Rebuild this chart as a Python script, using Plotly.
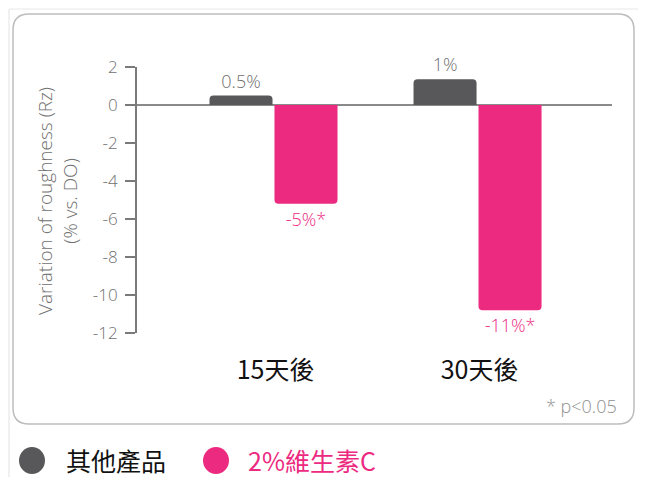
import plotly.graph_objects as go

# ---- data ----
categories = ["15天後", "30天後"]
other_values = [0.5, 1.35]
vitc_values = [-5.2, -10.8]
other_labels = ["0.5%", "1%"]
vitc_labels = ["-5%*", "-11%*"]
series_names = ["其他產品", "2%維生素C"]
y_ticks = [2, 0, -2, -4, -6, -8, -10, -12]

GRAY = "#58585A"
PINK = "#EC2A7F"
TXT_GRAY = "#707070"
LIGHT = "Open Sans"
CJK = "Noto Sans CJK TC"

OFF = 8                      # page body margin
W, H = 646 - OFF, 477 - OFF
PL, PR, PT, PB = 137, 612, 67, 333   # plot area in page pixels
ML, MR, MT, MB = PL - OFF, 646 - PR, PT - OFF, 477 - PB
PW, PH = PR - PL, PB - PT


def px(x):
    return (x - PL) / PW


def py(y):
    return (PB - y) / PH


fig = go.Figure()
fig.add_trace(go.Bar(
    x=categories, y=other_values, name=series_names[0],
    marker=dict(color=GRAY, line=dict(width=0)),
    text=other_labels, textposition="outside",
    textfont=dict(family=LIGHT, size=18, color=TXT_GRAY, weight=300),
    cliponaxis=False, showlegend=False,
))
fig.add_trace(go.Bar(
    x=categories, y=vitc_values, name=series_names[1],
    marker=dict(color=PINK, line=dict(width=0)),
    text=vitc_labels, textposition="outside",
    textfont=dict(family=LIGHT, size=18, color=PINK, weight=300),
    cliponaxis=False, showlegend=False,
))


def rounded_rect(x0, y0, x1, y1, r):
    def P(x, y):
        return f"{px(x):.5f},{py(y):.5f}"
    return (f"M {P(x0 + r, y0)} L {P(x1 - r, y0)} Q {P(x1, y0)} {P(x1, y0 + r)} "
            f"L {P(x1, y1 - r)} Q {P(x1, y1)} {P(x1 - r, y1)} "
            f"L {P(x0 + r, y1)} Q {P(x0, y1)} {P(x0, y1 - r)} "
            f"L {P(x0, y0 + r)} Q {P(x0, y0)} {P(x0 + r, y0)} Z")


shapes = [
    dict(type="path", xref="paper", yref="paper", path=rounded_rect(13, 14, 634, 424, 16),
         line=dict(color="#bdbdbd", width=1.5), layer="below"),
    dict(type="line", xref="paper", yref="paper", x0=px(9), x1=px(9), y0=py(9), y1=py(477),
         line=dict(color="#e2e2e2", width=1)),
    dict(type="line", xref="paper", yref="paper", x0=px(9), x1=px(646), y0=py(9), y1=py(9),
         line=dict(color="#e8e8e8", width=1)),
    # legend dots
    dict(type="circle", xref="paper", yref="paper", x0=px(19), x1=px(45), y0=py(447), y1=py(474),
         fillcolor=GRAY, line=dict(width=0)),
    dict(type="circle", xref="paper", yref="paper", x0=px(203), x1=px(229), y0=py(447), y1=py(474),
         fillcolor=PINK, line=dict(width=0)),
]

annotations = [
    dict(xref="paper", yref="paper", x=px(57), y=py(201), xanchor="center", yanchor="middle",
         textangle=-90, text="Variation of roughness (Rz)<br>(% vs. DO)", showarrow=False,
         font=dict(family=LIGHT, size=19, color=TXT_GRAY, weight=300)),
    dict(xref="paper", yref="paper", x=px(619), y=py(406), xanchor="right", yanchor="middle",
         text="* p<0.05", showarrow=False,
         font=dict(family=LIGHT, size=18, color="#8f8f8f", weight=300)),
    dict(xref="paper", yref="paper", x=px(64), y=py(460), xanchor="left", yanchor="middle",
         text=series_names[0], showarrow=False,
         font=dict(family=CJK, size=25, color="#111111")),
    dict(xref="paper", yref="paper", x=px(246), y=py(460), xanchor="left", yanchor="middle",
         text=series_names[1], showarrow=False,
         font=dict(family=CJK, size=25, color=PINK)),
]

fig.update_layout(
    width=W, height=H,
    margin=dict(l=ML, r=MR, t=MT, b=MB, pad=0),
    paper_bgcolor="white", plot_bgcolor="white",
    barmode="group", bargap=0.363, bargroupgap=0.03,
    barcornerradius=4,
    shapes=shapes, annotations=annotations,
    showlegend=False,
)
fig.update_xaxes(
    type="category", range=[-0.669, 1.659],
    showline=False, showgrid=False, zeroline=False, ticks="",
    tickfont=dict(family=CJK, size=25, color="#111111"),
    ticklabelstandoff=20, ticklabelshift=2,
)
fig.update_yaxes(
    range=[-12, 2], tickvals=y_ticks, ticktext=[str(v) for v in y_ticks],
    showline=True, linecolor="#7a7a7a", linewidth=2,
    ticks="outside", ticklen=10, tickwidth=2, tickcolor="#7a7a7a",
    showgrid=False, zeroline=True, zerolinecolor="#8a8a8a", zerolinewidth=2,
    tickfont=dict(family=LIGHT, size=17, color=TXT_GRAY, weight=300),
    ticklabelstandoff=4,
)

fig.write_html("out.html")
